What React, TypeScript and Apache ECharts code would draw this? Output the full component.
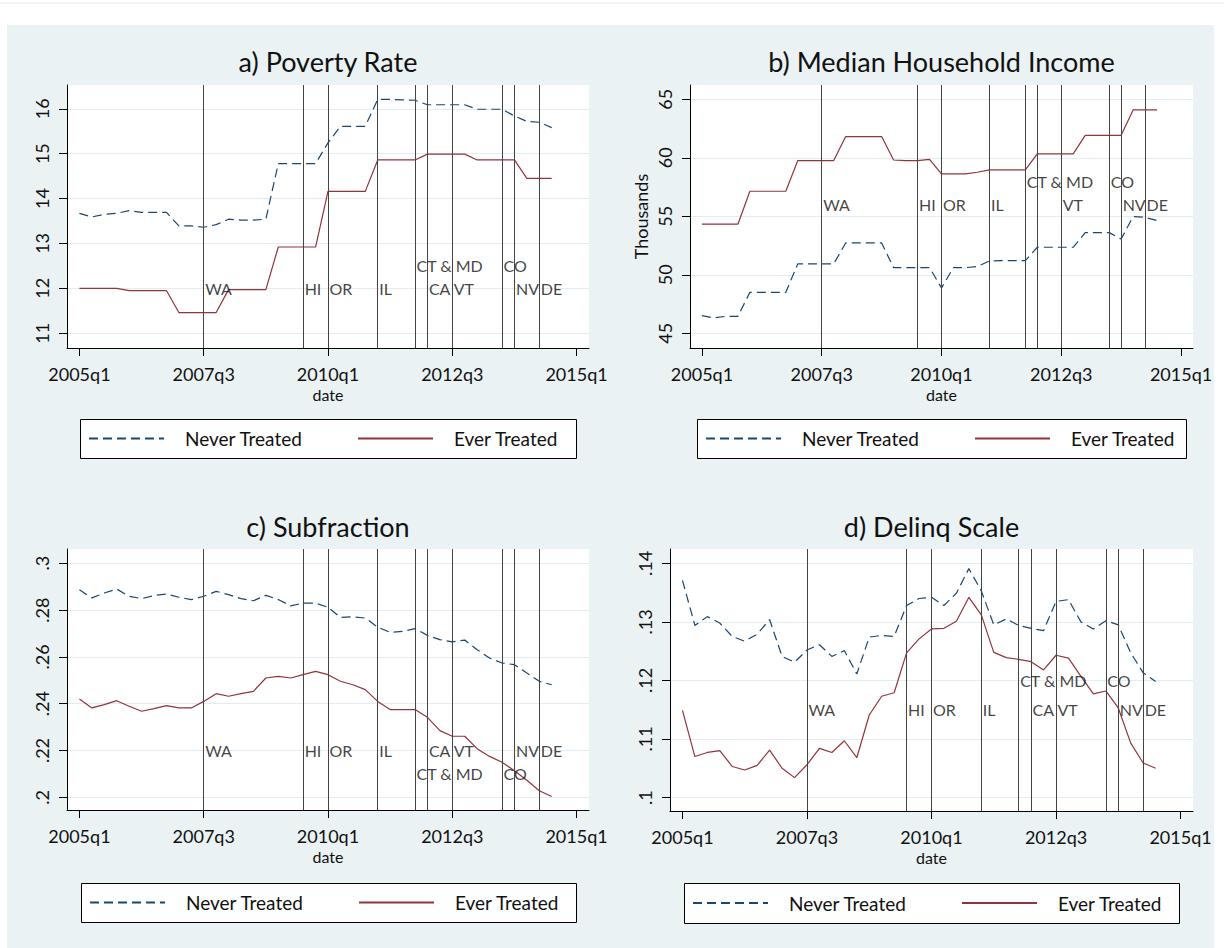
import React, { useEffect, useRef } from 'react';
import * as echarts from 'echarts';

// ---------- data ----------
const quarters = [
  '2005q1', '2005q2', '2005q3', '2005q4', '2006q1', '2006q2', '2006q3', '2006q4',
  '2007q1', '2007q2', '2007q3', '2007q4', '2008q1', '2008q2', '2008q3', '2008q4',
  '2009q1', '2009q2', '2009q3', '2009q4', '2010q1', '2010q2', '2010q3', '2010q4',
  '2011q1', '2011q2', '2011q3', '2011q4', '2012q1', '2012q2', '2012q3', '2012q4',
  '2013q1', '2013q2', '2013q3', '2013q4', '2014q1', '2014q2', '2014q3',
];
const xTickLabels = ['2005q1', '2007q3', '2010q1', '2012q3', '2015q1'];

const treatmentDates = ['2007q3', '2009q3', '2010q1', '2011q1', '2011q4', '2012q1', '2012q3', '2013q3', '2013q4', '2014q2'];
const stateNames = ['WA', 'HI', 'OR', 'IL', 'CT & MD', 'CA', 'VT', 'CO', 'NV', 'DE'];
const secondRowStates = ['CT & MD', 'CO'];

const povertyNever = [
  13.67, 13.59, 13.65, 13.67, 13.73, 13.69, 13.69, 13.69,
  13.39, 13.39, 13.36, 13.42, 13.54, 13.52, 13.52, 13.54,
  14.78, 14.78, 14.78, 14.78, 15.24, 15.61, 15.61, 15.61,
  16.21, 16.21, 16.2, 16.19, 16.09, 16.09, 16.09, 16.09,
  15.99, 15.99, 15.99, 15.84, 15.72, 15.7, 15.58,
];
const povertyEver = [
  12.0, 12.0, 12.0, 12.0, 11.95, 11.95, 11.95, 11.95,
  11.46, 11.46, 11.46, 11.46, 11.97, 11.97, 11.97, 11.97,
  12.92, 12.92, 12.92, 12.92, 14.16, 14.16, 14.16, 14.16,
  14.86, 14.86, 14.86, 14.86, 14.99, 14.99, 14.99, 14.99,
  14.86, 14.86, 14.86, 14.86, 14.45, 14.45, 14.45,
];
const incomeNever = [
  46.51, 46.31, 46.45, 46.45, 48.5, 48.5, 48.5, 48.5,
  50.93, 50.93, 50.93, 50.93, 52.72, 52.72, 52.72, 52.72,
  50.61, 50.61, 50.61, 50.61, 48.87, 50.61, 50.61, 50.7,
  51.18, 51.21, 51.21, 51.21, 52.35, 52.35, 52.35, 52.35,
  53.6, 53.6, 53.6, 53.06, 54.97, 54.91, 54.63,
];
const incomeEver = [
  54.32, 54.32, 54.32, 54.32, 57.14, 57.14, 57.14, 57.14,
  59.76, 59.76, 59.76, 59.76, 61.81, 61.81, 61.81, 61.81,
  59.81, 59.76, 59.76, 59.87, 58.62, 58.62, 58.62, 58.76,
  58.96, 58.96, 58.96, 58.96, 60.33, 60.33, 60.33, 60.33,
  61.92, 61.92, 61.92, 61.92, 64.09, 64.09, 64.09,
];
const subfracNever = [
  0.2887, 0.2852, 0.2873, 0.289, 0.2859, 0.2849, 0.2862, 0.2869,
  0.2855, 0.2845, 0.2859, 0.288, 0.2866, 0.2849, 0.284, 0.2863,
  0.2845, 0.2818, 0.283, 0.283, 0.2812, 0.2769, 0.2771, 0.2766,
  0.2727, 0.2705, 0.2709, 0.2721, 0.2692, 0.2674, 0.2664, 0.2672,
  0.2631, 0.2595, 0.2574, 0.2567, 0.2531, 0.2496, 0.2481,
];
const subfracEver = [
  0.242, 0.2382, 0.2396, 0.2413, 0.2389, 0.2368, 0.2379, 0.2392,
  0.2382, 0.2382, 0.241, 0.2443, 0.2432, 0.2443, 0.2453, 0.251,
  0.2517, 0.251, 0.2524, 0.2538, 0.2524, 0.2496, 0.2481, 0.246,
  0.241, 0.2375, 0.2375, 0.2375, 0.2342, 0.2285, 0.2261, 0.2261,
  0.2208, 0.2175, 0.215, 0.2114, 0.2073, 0.2028, 0.2004,
];
const delinqNever = [
  0.1371, 0.1294, 0.1309, 0.1298, 0.1275, 0.1267, 0.1279, 0.1304,
  0.1241, 0.1231, 0.1252, 0.1261, 0.1241, 0.1251, 0.1211, 0.1274,
  0.1277, 0.1275, 0.1328, 0.134, 0.1342, 0.1328, 0.1349, 0.1391,
  0.1353, 0.1295, 0.1305, 0.1294, 0.1289, 0.1285, 0.1335, 0.1338,
  0.13, 0.1288, 0.1302, 0.1295, 0.1247, 0.1213, 0.1198,
];
const delinqEver = [
  0.1149, 0.107, 0.1077, 0.108, 0.1053, 0.1047, 0.1055, 0.1081,
  0.105, 0.1034, 0.1056, 0.1084, 0.1077, 0.1097, 0.1068, 0.1141,
  0.1173, 0.1179, 0.1247, 0.1271, 0.1288, 0.1289, 0.1301, 0.1342,
  0.1312, 0.1248, 0.1239, 0.1236, 0.1232, 0.1218, 0.1243, 0.1238,
  0.1207, 0.1177, 0.1182, 0.1153, 0.1093, 0.1059, 0.105,
];

const povertyTicks = [11, 12, 13, 14, 15, 16];
const incomeTicks = [45, 50, 55, 60, 65];
const subfracTicks = [0.2, 0.22, 0.24, 0.26, 0.28, 0.3];
const delinqTicks = [0.1, 0.11, 0.12, 0.13, 0.14];

// ---------- styling / layout ----------
const FONT = 'Lato, "Open Sans", "DejaVu Sans", sans-serif';
const NAVY = '#1a476f';
const MAROON = '#90353b';
const BG = '#eaf2f3';
const TXT = '#111111';

function qIndex(label: string): number {
  const y = parseInt(label.slice(0, 4), 10);
  const q = parseInt(label.slice(5), 10);
  return (y - 2005) * 4 + q - 1;
}
const xTickPos = xTickLabels.map(qIndex);

function fmtY(v: number): string {
  const s = String(Number(v.toFixed(4)));
  return s.replace(/^0\./, '.');
}

type Panel = {
  title: string;
  never: number[];
  ever: number[];
  ticks: number[];
  yMin: number;
  yMax: number;
  grid: { left: number; top: number; width: number; height: number };
  rowY: [number, number];
  hide: string[];
  box: [number, number, number, number];
  titleY: number;
  yName?: string;
};

const panels: Panel[] = [
  {
    title: 'a) Poverty Rate', never: povertyNever, ever: povertyEver, ticks: povertyTicks,
    yMin: 10.67, yMax: 16.53, grid: { left: 67, top: 85, width: 522, height: 263 },
    rowY: [12, 12.5], hide: [], box: [80, 419, 496, 39], titleY: 61,
  },
  {
    title: 'b) Median Household Income', never: incomeNever, ever: incomeEver, ticks: incomeTicks,
    yMin: 43.74, yMax: 66.22, grid: { left: 690, top: 85, width: 503, height: 263 },
    rowY: [56, 58], hide: ['CA'], box: [697, 419, 489, 39], titleY: 61, yName: 'Thousands',
  },
  {
    title: 'c) Subfraction', never: subfracNever, ever: subfracEver, ticks: subfracTicks,
    yMin: 0.1946, yMax: 0.3061, grid: { left: 67, top: 549, width: 522, height: 261 },
    rowY: [0.22, 0.21], hide: [], box: [81, 883, 495, 39], titleY: 526,
  },
  {
    title: 'd) Delinq Scale', never: delinqNever, ever: delinqEver, ticks: delinqTicks,
    yMin: 0.0977, yMax: 0.14245, grid: { left: 670, top: 549, width: 523, height: 262 },
    rowY: [0.115, 0.12], hide: [], box: [684, 883, 495, 40], titleY: 526,
  },
];

function buildOption(): any {
  const grid: any[] = [];
  const xAxis: any[] = [];
  const yAxis: any[] = [];
  const series: any[] = [];
  const legend: any[] = [];
  const graphic: any[] = [
    { type: 'rect', z: -100, shape: { x: 7, y: 25, width: 1207, height: 923 }, style: { fill: BG } },
    { type: 'line', z: -100, shape: { x1: 0, y1: 3, x2: 1224, y2: 3 }, style: { stroke: '#e6e6e6', lineWidth: 1 } },
  ];

  panels.forEach((p, i) => {
    grid.push({ ...p.grid, show: true, backgroundColor: '#ffffff', borderWidth: 0, containLabel: false, outerBoundsMode: 'none' });

    xAxis.push({
      type: 'value', gridIndex: i, min: -1, max: 41,
      name: 'date', nameLocation: 'middle', nameGap: 38, nameMoveOverlap: false,
      nameTextStyle: { fontFamily: FONT, fontSize: 16, color: TXT },
      axisLine: { show: true, onZero: false, lineStyle: { color: '#000', width: 1 } },
      axisTick: { show: true, length: 8, customValues: xTickPos, lineStyle: { color: '#000', width: 1 } },
      axisLabel: {
        show: true, customValues: xTickPos, margin: 17, fontFamily: FONT, fontSize: 18, color: TXT,
        formatter: (v: number) => xTickLabels[xTickPos.indexOf(Math.round(v))] ?? '',
      },
      splitLine: { show: false },
    });

    yAxis.push({
      type: 'value', gridIndex: i, min: p.yMin, max: p.yMax,
      name: p.yName ?? '', nameLocation: 'middle', nameGap: 40, nameMoveOverlap: false,
      nameTextStyle: { fontFamily: FONT, fontSize: 18, color: TXT },
      axisLine: { show: true, onZero: false, lineStyle: { color: '#000', width: 1 } },
      axisTick: { show: true, length: 8, customValues: p.ticks, lineStyle: { color: '#000', width: 1 } },
      axisLabel: {
        show: true, customValues: p.ticks, rotate: 90, margin: 16, fontFamily: FONT, fontSize: 18, color: TXT,
        formatter: (v: number) => fmtY(v),
      },
      splitLine: { show: true, lineStyle: { color: '#e3ecee', width: 1.2 } },
    });

    series.push({
      name: 'Never Treated', type: 'line', xAxisIndex: i, yAxisIndex: i,
      symbol: 'none', silent: true, emphasis: { disabled: true },
      data: quarters.map((q, k) => [qIndex(q), p.never[k]]),
      lineStyle: { color: NAVY, width: 1.2, type: [9, 5] },
      itemStyle: { color: NAVY },
      z: 3,
      markLine: {
        silent: true, symbol: ['none', 'none'], animation: false,
        label: { show: false },
        emphasis: { disabled: true },
        lineStyle: { color: '#444', width: 1, type: 'solid' },
        data: treatmentDates.map((d) => ({ xAxis: qIndex(d) })),
      },
    });
    series.push({
      name: 'Ever Treated', type: 'line', xAxisIndex: i, yAxisIndex: i,
      symbol: 'none', silent: true, emphasis: { disabled: true },
      data: quarters.map((q, k) => [qIndex(q), p.ever[k]]),
      lineStyle: { color: MAROON, width: 1.2, type: 'solid' },
      itemStyle: { color: MAROON },
      z: 3,
    });

    const labelData = stateNames
      .map((s, k) => ({ s, d: treatmentDates[k] }))
      .filter((o) => p.hide.indexOf(o.s) < 0)
      .map((o) => ({
        name: o.s,
        value: [qIndex(o.d), secondRowStates.indexOf(o.s) >= 0 ? p.rowY[1] : p.rowY[0]],
      }));
    series.push({
      name: 'states' + i, type: 'scatter', xAxisIndex: i, yAxisIndex: i,
      symbolSize: 1, silent: true, itemStyle: { color: 'rgba(0,0,0,0)' },
      emphasis: { disabled: true },
      label: {
        show: true, position: 'right', distance: 1, formatter: '{b}',
        fontFamily: FONT, fontSize: 16, color: TXT,
      },
      data: labelData,
      z: 5,
    });

    const [bx, by, bw, bh] = p.box;
    graphic.push({
      type: 'rect', z: 1, shape: { x: bx + 0.5, y: by + 0.5, width: bw, height: bh },
      style: { fill: '#ffffff', stroke: '#000', lineWidth: 1 },
    });
    const cy = by + bh / 2;
    const legendCommon = {
      orient: 'horizontal', top: cy - 10, padding: 0, itemWidth: 75, itemHeight: 20,
      selectedMode: false, z: 10,
      itemStyle: { color: 'rgba(0,0,0,0)', borderWidth: 0, opacity: 0 },
      textStyle: { fontFamily: FONT, fontSize: 19, color: TXT, lineHeight: 20, padding: [0, 0, 0, 16] },
    };
    legend.push({ ...legendCommon, left: bx + 8, data: ['Never Treated'] });
    legend.push({ ...legendCommon, left: bx + 277, data: ['Ever Treated'] });

    graphic.push({
      type: 'text', z: 10, x: p.grid.left + p.grid.width / 2, y: p.titleY,
      style: {
        text: p.title, align: 'center', verticalAlign: 'middle',
        fontFamily: FONT, fontSize: 27, fill: TXT,
      },
    });
  });

  return {
    animation: false,
    backgroundColor: '#ffffff',
    textStyle: { fontFamily: FONT },
    grid, xAxis, yAxis, series, legend, graphic,
  };
}

export default function App() {
  const ref = useRef<HTMLDivElement>(null);
  useEffect(() => {
    if (!ref.current) return;
    const chart = echarts.init(ref.current, null, { renderer: 'svg' });
    chart.setOption(buildOption());
    return () => chart.dispose();
  }, []);
  return (
    <div
      ref={ref}
      style={{ position: 'absolute', left: 0, top: 0, width: 1224, height: 948 }}
    />
  );
}
